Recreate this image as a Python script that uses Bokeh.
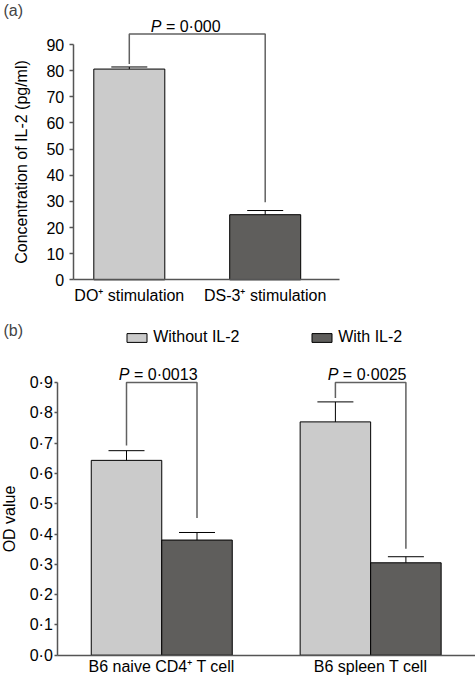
from bokeh.plotting import figure
from bokeh.models import (Range1d, FixedTicker, ColumnDataSource, Whisker, TeeHead,
                          Legend, LegendItem, Label, CustomJSTickFormatter, LinearAxis)
from bokeh.core.properties import value
from bokeh.embed import file_html
from bokeh.resources import INLINE

# ---------------- data: panel (a) ----------------
a_categories = ["DO\u207a stimulation", "DS-3\u207a stimulation"]
a_values = [80.6, 24.9]
a_errors = [0.8, 1.6]
a_pvalue = "0\u00b7000"
a_bracket_top = 94.0
a_bracket_feet = [82.5, 29.7]
a_yticks = [0, 10, 20, 30, 40, 50, 60, 70, 80, 90]
a_ylabel = "Concentration of IL-2 (pg/ml)"

# ---------------- data: panel (b) ----------------
b_groups = ["B6 naive CD4\u207a T cell", "B6 spleen T cell"]
b_series = ["Without IL-2", "With IL-2"]
b_without = [0.643, 0.770]
b_without_err = [0.032, 0.066]
b_with = [0.380, 0.305]
b_with_err = [0.025, 0.020]
b_pvalues = ["0\u00b70013", "0\u00b70025"]
b_bracket_top = [0.9, 0.9]
b_feet_left = [0.692, 0.849]
b_feet_right = [0.453, 0.351]
b_yticks = [0.0, 0.1, 0.2, 0.3, 0.4, 0.5, 0.6, 0.7, 0.8, 0.9]
b_ytick_labels = ["0\u00b70", "0\u00b71", "0\u00b72", "0\u00b73", "0\u00b74",
                  "0\u00b75", "0\u00b76", "0\u00b77", "0\u00b78", "0\u00b79"]
b_ylabel = "OD value"

# ---------------- style / layout (pixels) ----------------
FONT = "Liberation Sans"
FS = "16px"
LIGHT = "#cbcbcb"
DARK = "#5f5e5c"
AXIS_COL = "#555555"
BRACKET_COL = "#616161"
W, H = 475, 679

# panel (a) pixel geometry (top-down page pixels)
A_AXIS_X, A_AXIS_RIGHT = 72.7, 339.0
A_ZERO_Y, A_PPU = 279.3, 235.3 / 90.0
A_C0, A_STEP, A_BARW = 128.8, 135.9, 71.0
# panel (b)
B_AXIS_X = 57.3
B_ZERO_Y, B_PPU = 654.7, 272.7 / 0.9
B_C0, B_STEP, B_BARW = 161.25, 208.9, 70.5

W_CH = {'P': .667, ' ': .278, '\u00a0': .278, '=': .584, '\u00b7': .278}


def tw(s, size=16):
    return sum(W_CH.get(c, .556) for c in s) * size


p = figure(width=W, height=H, output_backend="svg", toolbar_location=None,
           x_range=Range1d(0, W), y_range=Range1d(0, H),
           x_axis_location=None, y_axis_location=None,
           min_border_left=0, min_border_right=0, min_border_top=0, min_border_bottom=0)
p.outline_line_color = None
p.xgrid.visible = False
p.ygrid.visible = False

p.extra_x_ranges = {
    "ax": Range1d(-A_C0 / A_STEP, (W - A_C0) / A_STEP),
    "bx": Range1d(-B_C0 / B_STEP, (W - B_C0) / B_STEP),
}
p.extra_y_ranges = {
    "ay": Range1d(-(H - A_ZERO_Y) / A_PPU, A_ZERO_Y / A_PPU),
    "by": Range1d(-(H - B_ZERO_Y) / B_PPU, B_ZERO_Y / B_PPU),
}


def style_axis(ax):
    ax.axis_line_color = AXIS_COL
    ax.axis_line_width = 1.5
    ax.major_tick_line_color = AXIS_COL
    ax.major_tick_line_width = 1.5
    ax.minor_tick_line_color = None
    ax.major_tick_in = 0
    ax.major_label_text_font = FONT
    ax.major_label_text_font_size = FS
    ax.major_label_text_color = "black"
    ax.axis_label_text_font = FONT
    ax.axis_label_text_font_size = FS
    ax.axis_label_text_font_style = "normal"
    ax.axis_label_text_color = "black"


def p_text(xs, ys, pvals, shift, xr, yr):
    rest = ["\u00a0=\u00a0" + v for v in pvals]
    xo = [shift - (tw("P") + tw(r)) / 2 + tw("P") for r in rest]
    src = ColumnDataSource(dict(x=xs, y=ys, p=["P"] * len(xs), rest=rest, xo=xo))
    p.text(x="x", y="y", text="p", source=src, x_offset="xo", y_offset=-8,
           text_font=value(FONT), text_font_size=FS, text_font_style="italic",
           text_align="right", text_baseline="alphabetic", text_color="black",
           x_range_name=xr, y_range_name=yr)
    p.text(x="x", y="y", text="rest", source=src, x_offset="xo", y_offset=-8,
           text_font=value(FONT), text_font_size=FS,
           text_align="left", text_baseline="alphabetic", text_color="black",
           x_range_name=xr, y_range_name=yr)


LABEL_JS = "const l = cats[Math.round(tick)]; return l === undefined ? '' : l;"

# ================= panel (a) =================
a_x = list(range(len(a_categories)))
a_src = ColumnDataSource(dict(x=a_x, top=a_values, up=[v + e for v, e in zip(a_values, a_errors)],
                              color=[LIGHT, DARK]))
p.vbar(x="x", top="top", width=A_BARW / A_STEP, source=a_src, fill_color="color",
       line_color="black", line_width=1, x_range_name="ax", y_range_name="ay")
p.add_layout(Whisker(base="x", lower="top", upper="up", source=a_src, dimension="height",
                     line_color="black", line_width=1, lower_head=None,
                     upper_head=TeeHead(size=36, line_color="black", line_width=1),
                     level="overlay", x_range_name="ax", y_range_name="ay"))
p.multi_line(xs=[[a_x[0], a_x[0], a_x[1], a_x[1]]],
             ys=[[a_bracket_feet[0], a_bracket_top, a_bracket_top, a_bracket_feet[1]]],
             line_color=BRACKET_COL, line_width=1.5, x_range_name="ax", y_range_name="ay")
p_text([(a_x[0] + a_x[1]) / 2], [a_bracket_top], [a_pvalue], -12, "ax", "ay")

a_left = (A_AXIS_X - A_C0) / A_STEP
a_right = (A_AXIS_RIGHT - A_C0) / A_STEP
ay_axis = LinearAxis(x_range_name="ax", y_range_name="ay", fixed_location=a_left,
                     ticker=FixedTicker(ticks=a_yticks), bounds=(a_yticks[0], a_yticks[-1]),
                     axis_label=a_ylabel)
style_axis(ay_axis)
ay_axis.major_tick_out = 4
ay_axis.major_label_standoff = 5
ay_axis.axis_label_standoff = 14
p.add_layout(ay_axis, "left")

ax_axis = LinearAxis(x_range_name="ax", y_range_name="ay", fixed_location=0,
                     ticker=FixedTicker(ticks=a_x), bounds=(a_left, a_right),
                     formatter=CustomJSTickFormatter(args=dict(cats=a_categories), code=LABEL_JS))
style_axis(ax_axis)
ax_axis.major_tick_out = 0
ax_axis.major_label_standoff = 7
p.add_layout(ax_axis, "below")

p.add_layout(Label(x=3, y=H - 1, x_units="screen", y_units="screen", text="(a)",
                   text_font=FONT, text_font_size=FS, text_baseline="top", text_align="left"))

# ================= panel (b) =================
b_x = list(range(len(b_groups)))
b_bw = B_BARW / B_STEP
x_wo = [i - b_bw / 2 for i in b_x]
x_wi = [i + b_bw / 2 for i in b_x]
src_wo = ColumnDataSource(dict(x=x_wo, top=b_without,
                               up=[v + e for v, e in zip(b_without, b_without_err)]))
src_wi = ColumnDataSource(dict(x=x_wi, top=b_with,
                               up=[v + e for v, e in zip(b_with, b_with_err)]))
r_wo = p.vbar(x="x", top="top", width=b_bw, source=src_wo, fill_color=LIGHT,
              line_color="black", line_width=1, x_range_name="bx", y_range_name="by")
r_wi = p.vbar(x="x", top="top", width=b_bw, source=src_wi, fill_color=DARK,
              line_color="black", line_width=1, x_range_name="bx", y_range_name="by")
for s in (src_wo, src_wi):
    p.add_layout(Whisker(base="x", lower="top", upper="up", source=s, dimension="height",
                         line_color="black", line_width=1, lower_head=None,
                         upper_head=TeeHead(size=36, line_color="black", line_width=1),
                         level="overlay", x_range_name="bx", y_range_name="by"))
p.multi_line(xs=[[x_wo[i], x_wo[i], x_wi[i], x_wi[i]] for i in b_x],
             ys=[[b_feet_left[i], b_bracket_top[i], b_bracket_top[i], b_feet_right[i]] for i in b_x],
             line_color=BRACKET_COL, line_width=1.5, x_range_name="bx", y_range_name="by")
p_text([float(i) for i in b_x], b_bracket_top, b_pvalues, -4, "bx", "by")

b_left = (B_AXIS_X - B_C0) / B_STEP
by_axis = LinearAxis(x_range_name="bx", y_range_name="by", fixed_location=b_left,
                     ticker=FixedTicker(ticks=b_yticks), bounds=(b_yticks[0], b_yticks[-1]),
                     axis_label=b_ylabel,
                     formatter=CustomJSTickFormatter(
                         args=dict(tvals=b_yticks, tlabels=b_ytick_labels),
                         code="const i = tvals.findIndex(t => Math.abs(t - tick) < 1e-6); return i >= 0 ? tlabels[i] : '';"))
style_axis(by_axis)
by_axis.major_tick_out = 3
by_axis.major_label_standoff = 2
by_axis.axis_label_standoff = 8
p.add_layout(by_axis, "left")

bx_axis = LinearAxis(x_range_name="bx", y_range_name="by", fixed_location=0,
                     ticker=FixedTicker(ticks=b_x), bounds=(b_left, (W - B_C0) / B_STEP),
                     formatter=CustomJSTickFormatter(args=dict(cats=b_groups), code=LABEL_JS))
style_axis(bx_axis)
bx_axis.major_tick_out = 0
bx_axis.major_label_standoff = 3
p.add_layout(bx_axis, "below")

for item_label, rend, lx in ((b_series[0], r_wo, 124.2), (b_series[1], r_wi, 309.2)):
    lg = Legend(items=[LegendItem(label=item_label, renderers=[rend])], location=(lx, H - 346),
                orientation="horizontal", glyph_width=25, glyph_height=11, label_height=11,
                label_standoff=4, padding=0, margin=0, spacing=0,
                border_line_color=None, background_fill_alpha=0,
                label_text_font=FONT, label_text_font_size=FS, label_text_color="black")
    p.add_layout(lg)

p.add_layout(Label(x=3, y=H - 321, x_units="screen", y_units="screen", text="(b)",
                   text_font=FONT, text_font_size=FS, text_baseline="top", text_align="left"))

open("out.html", "w").write(file_html(p, INLINE))
